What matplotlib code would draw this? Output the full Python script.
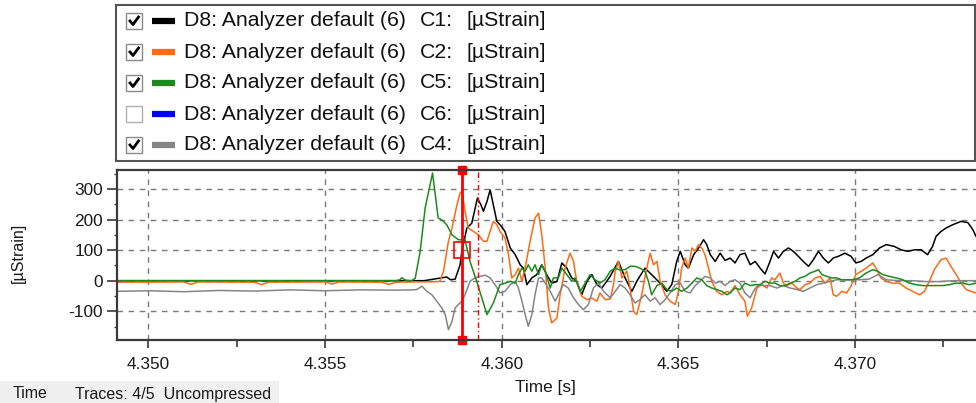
"""
應變量測圖 (D8 Analyzer default) - 重現截圖
"""
import matplotlib
matplotlib.use('Agg')
import matplotlib.pyplot as plt
from matplotlib.lines import Line2D
from matplotlib.patches import Rectangle
from matplotlib.ticker import MultipleLocator, FormatStrFormatter

plt.rcParams['font.family'] = ['Liberation Sans', 'DejaVu Sans']
plt.rcParams['axes.unicode_minus'] = False

# ---- data ----
legend_names = ['D8: Analyzer default (6)'] * 5
legend_channels = ['C1:', 'C2:', 'C5:', 'C6:', 'C4:']
legend_units = ['[µStrain]'] * 5
legend_checked = [True, True, True, False, True]
legend_colors = ['#000000', '#ff6a13', '#1e8a1e', '#0000ff', '#858585']

c1_t = [4.3490, 4.3578, 4.35844, 4.35855, 4.35868, 4.35882, 4.35887, 4.35901, 4.35915, 4.35931,
        4.35941, 4.35948, 4.35958, 4.35967, 4.35976, 4.35986, 4.35995, 4.36009, 4.36024, 4.36038,
        4.36052, 4.36061, 4.36071, 4.36085, 4.36099, 4.36113, 4.36127, 4.36141, 4.36156, 4.36170,
        4.36184, 4.36198, 4.36212, 4.36226, 4.36241, 4.36255, 4.36269, 4.36283, 4.36297, 4.36307,
        4.36330, 4.36349, 4.36368, 4.36382, 4.36405, 4.36424, 4.36448, 4.36467, 4.36481, 4.36495,
        4.36505, 4.36519, 4.36528, 4.36543, 4.36557, 4.36571, 4.36580, 4.36590, 4.36604, 4.36618,
        4.36632, 4.36646, 4.36660, 4.36674, 4.36688, 4.36703, 4.36717, 4.36731, 4.36745, 4.36759,
        4.36769, 4.36783, 4.36797, 4.36811, 4.36825, 4.36839, 4.36853, 4.36868, 4.36882, 4.36896,
        4.36910, 4.36924, 4.36938, 4.36953, 4.36971, 4.36988, 4.37002, 4.37017, 4.37031, 4.37050,
        4.37069, 4.37088, 4.37111, 4.37130, 4.37149, 4.37168, 4.37187, 4.37205, 4.37219, 4.37229,
        4.37243, 4.37257, 4.37276, 4.37300, 4.37319, 4.37333, 4.37342, 4.3736]
c1_v = [0, 0, 12, 3, 5, 52, 96, 172, 188, 270,
        248, 227, 259, 297, 248, 194, 183, 161, 107, 85,
        52, 41, -13, 9, 20, 52, 20, -8, -3, 58,
        41, 9, -2, -46, -2, 20, -13, -24, -2, 15,
        63, 9, -35, -2, 41, 20, -8, -35, -13, 63,
        96, 52, 41, 85, 107, 134, 118, 85, 63, 90,
        66, 74, 58, 85, 90, 52, 63, 41, 22, 63,
        96, 74, 96, 107, 96, 80, 63, 47, 69, 96,
        74, 58, 74, 80, 90, 80, 58, 63, 74, 85,
        107, 118, 112, 101, 96, 101, 101, 85, 112, 145,
        161, 172, 183, 194, 190, 167, 145, 120]

c2_t = [4.3490, 4.3510, 4.3512, 4.3514, 4.3530, 4.3532, 4.3534, 4.3550, 4.3552, 4.3554,
        4.3566, 4.3568, 4.3570, 4.3582, 4.35825, 4.35835, 4.35849, 4.35859, 4.35873, 4.35882,
        4.35887, 4.35896, 4.35905, 4.35920, 4.35934, 4.35948, 4.35958, 4.35967, 4.35976, 4.35986,
        4.35995, 4.36009, 4.36019, 4.36028, 4.36038, 4.36047, 4.36057, 4.36066, 4.36080, 4.36094,
        4.36104, 4.36113, 4.36123, 4.36132, 4.36141, 4.36156, 4.36165, 4.36179, 4.36193, 4.36203,
        4.36212, 4.36226, 4.36241, 4.36255, 4.36269, 4.36278, 4.36292, 4.36307, 4.36316, 4.36321,
        4.36330, 4.36340, 4.36354, 4.36363, 4.36373, 4.36382, 4.36396, 4.36410, 4.36420, 4.36429,
        4.36439, 4.36448, 4.36462, 4.36476, 4.36491, 4.36500, 4.36509, 4.36519, 4.36528, 4.36538,
        4.36547, 4.36557, 4.36566, 4.36575, 4.36585, 4.36594, 4.36608, 4.36623, 4.36637, 4.36646,
        4.36660, 4.36674, 4.36688, 4.36695, 4.36707, 4.36722, 4.36736, 4.36750, 4.36764, 4.36773,
        4.36787, 4.36797, 4.36806, 4.36821, 4.36835, 4.36844, 4.36858, 4.36872, 4.36887, 4.36901,
        4.36915, 4.36929, 4.36938, 4.36948, 4.36962, 4.36976, 4.36988, 4.37002, 4.37017, 4.37031,
        4.37050, 4.37059, 4.37073, 4.37088, 4.37106, 4.37125, 4.37144, 4.37163, 4.37182, 4.37196,
        4.37210, 4.37224, 4.37243, 4.37257, 4.37271, 4.37286, 4.37300, 4.37314, 4.37328, 4.37342,
        4.3736]
c2_v = [-5, -4, -12, -4, -5, -13, -5, -4, -11, -4,
        -5, -12, -5, -3, -1, 31, 129, 172, 248, 287,
        292, 227, 172, 161, 150, 129, 129, 161, 194, 183,
        161, 140, 85, 9, 20, 41, -2, 41, 129, 205,
        221, 150, 41, -89, -138, -122, -46, 41, 90, 63,
        -2, -51, -62, -57, -67, -40, -62, -60, -13, 31,
        63, 9, 31, -24, -100, -111, -46, 41, 90, 52,
        63, -2, -46, -67, -78, -35, 41, 74, 41, 107,
        96, 118, 107, 85, 41, -2, -35, -46, -35, -40,
        -16, -46, -67, -116, -89, -24, -13, -24, 9, 3,
        25, -8, -16, -8, -24, -29, -13, -8, 9, 14,
        -8, 9, -46, -51, -35, -40, -18, 20, 31, 41,
        58, 41, 9, -2, -8, -8, -24, -35, -46, -35,
        -2, 36, 69, 74, 47, 20, -8, -29, -35, -40,
        -42]

c5_t = [4.3490, 4.3570, 4.35712, 4.35717, 4.35726, 4.35745, 4.35755, 4.35769, 4.35783, 4.35804,
        4.35820, 4.35830, 4.35844, 4.35859, 4.35877, 4.35896, 4.35910, 4.35929, 4.35958, 4.35976,
        4.35995, 4.36009, 4.36024, 4.36038, 4.36047, 4.36057, 4.36066, 4.36075, 4.36085, 4.36094,
        4.36104, 4.36113, 4.36123, 4.36137, 4.36146, 4.36160, 4.36170, 4.36184, 4.36198, 4.36207,
        4.36222, 4.36236, 4.36250, 4.36264, 4.36278, 4.36292, 4.36307, 4.36321, 4.36335, 4.36349,
        4.36363, 4.36377, 4.36391, 4.36405, 4.36415, 4.36424, 4.36439, 4.36453, 4.36467, 4.36481,
        4.36495, 4.36509, 4.36524, 4.36538, 4.36552, 4.36566, 4.36580, 4.36594, 4.36608, 4.36623,
        4.36637, 4.36646, 4.36660, 4.36674, 4.36688, 4.36703, 4.36717, 4.36731, 4.36745, 4.36759,
        4.36773, 4.36787, 4.36802, 4.36816, 4.36830, 4.36844, 4.36858, 4.36872, 4.36887, 4.36896,
        4.36906, 4.36920, 4.36934, 4.36948, 4.36962, 4.36976, 4.36993, 4.37012, 4.37031, 4.37050,
        4.37064, 4.37078, 4.37097, 4.37116, 4.37135, 4.37153, 4.37172, 4.37191, 4.37229, 4.37248,
        4.37267, 4.37286, 4.37304, 4.37323, 4.37342, 4.3736]
c5_v = [0, 0, 3, 10, 2, 0, 8, 96, 237, 352,
        205, 199, 183, 150, 134, 134, 63, -2, -111, -73,
        -13, -8, -2, -8, 20, 41, 31, 52, 31, 52,
        20, 52, 31, -24, 9, 9, 41, 20, -2, 9,
        -35, -8, 20, 3, -8, 3, 31, 41, 35, 36,
        47, 47, 41, 31, -2, -46, -16, -8, -29, -35,
        -24, -35, -24, -8, 9, 3, -16, -24, -29, -35,
        -46, -40, -24, -29, -8, -16, -13, -13, -2, -8,
        -8, -16, -16, -8, -2, 9, 14, 25, 31, 36,
        20, 14, 9, 9, 3, 3, 3, 9, 25, 36,
        31, 20, 14, 9, 3, -8, -13, -16, -16, -16,
        -13, -8, -8, -13, -8, -8]

c4_t = [4.3490, 4.3500, 4.3510, 4.3520, 4.3530, 4.3540, 4.3550, 4.3560, 4.3570, 4.35745,
        4.35759, 4.35774, 4.35788, 4.35802, 4.35816, 4.35830, 4.35840, 4.35849, 4.35859, 4.35868,
        4.35877, 4.35887, 4.35896, 4.35910, 4.35924, 4.35939, 4.35953, 4.35967, 4.35981, 4.35995,
        4.36009, 4.36024, 4.36038, 4.36047, 4.36057, 4.36066, 4.36075, 4.36085, 4.36094, 4.36104,
        4.36113, 4.36123, 4.36137, 4.36151, 4.36160, 4.36174, 4.36188, 4.36203, 4.36217, 4.36231,
        4.36245, 4.36259, 4.36274, 4.36288, 4.36307, 4.36321, 4.36335, 4.36349, 4.36363, 4.36377,
        4.36391, 4.36405, 4.36420, 4.36434, 4.36448, 4.36462, 4.36476, 4.36491, 4.36505, 4.36519,
        4.36533, 4.36547, 4.36561, 4.36575, 4.36590, 4.36604, 4.36618, 4.36632, 4.36646, 4.36660,
        4.36674, 4.36688, 4.36703, 4.36712, 4.36726, 4.36740, 4.36759, 4.36778, 4.36797, 4.36816,
        4.36835, 4.36853, 4.36872, 4.36891, 4.36910, 4.36929, 4.36948, 4.36967, 4.36985, 4.37012,
        4.37039, 4.37065, 4.37088, 4.37124, 4.37164, 4.37200, 4.37237, 4.37277, 4.37314, 4.37342,
        4.3736]
c4_v = [-35, -33, -36, -32, -34, -30, -33, -30, -31, -30,
        -29, -18, -35, -46, -67, -89, -111, -160, -133, -89,
        -78, -67, -46, -2, 9, 14, 18, 9, -13, -40,
        -35, -13, -2, -24, -67, -111, -149, -111, -46, 9,
        9, -8, -35, -67, -46, -13, -24, -56, -78, -95,
        -78, -24, -8, -35, -56, -35, -13, -24, -46, -73,
        -62, -46, -67, -56, -78, -62, -40, -13, -8, -35,
        -40, -16, -2, 14, 9, -8, -2, -16, -2, 3,
        -8, -40, -56, -35, -13, -16, -16, -24, -16, -24,
        -29, -35, -24, -13, -8, -2, 3, 3, 3, 3,
        5, 20, 3, 0, 0, -3, -3, 0, 0, 0,
        0]

cursor_t = 4.35887
cursor_val = 100
cursor2_t = 4.35934

W, H = 976, 403


def fx(x):
    return x / W


def fy(y):
    return 1 - y / H


fig = plt.figure(figsize=(9.76, 4.03), dpi=100, facecolor='white')

# ---- 上方圖例框 ----
fig.patches.append(Rectangle((fx(116), fy(161)), fx(975) - fx(116), fy(5) - fy(161),
                             transform=fig.transFigure, fill=False, edgecolor='#555555', lw=1.5))
rows_y = [21, 52, 83, 114, 145]
for i, yc in enumerate(rows_y):
    # checkbox
    fig.patches.append(Rectangle((fx(126), fy(yc + 8)), fx(16), 16 / H,
                                 transform=fig.transFigure, facecolor='white',
                                 edgecolor='#8a8a8a' if legend_checked[i] else '#b0b0b0', lw=1))
    if legend_checked[i]:
        fig.lines.append(Line2D([fx(130), fx(133), fx(138.5)], [fy(yc), fy(yc + 3.5), fy(yc - 4)],
                                transform=fig.transFigure, color='black', lw=2.0))
    fig.lines.append(Line2D([fx(152), fx(175)], [fy(yc), fy(yc)], transform=fig.transFigure,
                            color=legend_colors[i], lw=4.5, solid_capstyle='butt'))
    fig.text(fx(184), fy(yc), legend_names[i], fontsize=15.3, va='center', color='#111111')
    fig.text(fx(420), fy(yc), legend_channels[i], fontsize=15.3, va='center', color='#111111')
    fig.text(fx(466), fy(yc), legend_units[i], fontsize=15.3, va='center', color='#111111')

# ---- 主圖 ----
ax = fig.add_axes([fx(117), fy(340), (W - 117) / W, 170 / H])
ax.plot(c1_t, c1_v, color=legend_colors[0], lw=1.1)
ax.plot(c2_t, c2_v, color=legend_colors[1], lw=1.1)
ax.plot(c4_t, c4_v, color=legend_colors[4], lw=1.1)
ax.plot(c5_t, c5_v, color=legend_colors[2], lw=1.1)

# 游標
ax.axvline(cursor_t, color='#ff0000', lw=2)
ax.plot([cursor_t, cursor_t], [362, -194], ls='none', marker='s', ms=6,
        color='#ff0000', clip_on=False)
ax.plot([cursor_t], [cursor_val], ls='none', marker='s', ms=11.5, mfc='none',
        mec='#ff0000', mew=1.2)
ax.axvline(cursor2_t, color='#ff0000', lw=1, ls=(0, (4, 2, 1, 2)))

ax.set_xlim(4.34911, 4.37342)
ax.set_ylim(-194, 362)
ax.xaxis.set_major_locator(MultipleLocator(0.005))
ax.xaxis.set_minor_locator(MultipleLocator(0.0025))
ax.yaxis.set_major_locator(MultipleLocator(100))
ax.yaxis.set_minor_locator(MultipleLocator(50))
ax.xaxis.set_major_formatter(FormatStrFormatter('%.3f'))
ax.grid(True, which='major', color='#7a7a7a', ls=(0, (4, 4)), lw=1)
ax.tick_params(axis='x', which='major', length=6, width=1.2, pad=6, labelsize=12.4,
               colors='#3a3a3a', labelcolor='#1a1a1a')
ax.tick_params(axis='x', which='minor', length=5, width=1.2, colors='#3a3a3a')
ax.tick_params(axis='y', which='major', length=7, width=1.2, pad=3, labelsize=12.4,
               colors='#3a3a3a', labelcolor='#1a1a1a')
ax.tick_params(axis='y', which='minor', length=2.5, width=1, colors='#3a3a3a')
for side in ['top', 'left', 'bottom']:
    ax.spines[side].set_color('#3a3a3a')
    ax.spines[side].set_linewidth(1.6)
ax.spines['right'].set_visible(False)

ax.set_ylabel('[µStrain]', fontsize=11.5, color='#1a1a1a')
ax.yaxis.set_label_coords((26 - 117) / (W - 117), 0.51)
ax.set_xlabel('Time [s]', fontsize=12.4, color='#1a1a1a')
ax.xaxis.set_label_coords((545 - 117) / (W - 117), (340 - 380) / 170)

# ---- 狀態列 ----
fig.patches.append(Rectangle((0, 0), fx(279), fy(381), transform=fig.transFigure,
                             facecolor='#f0f0f0', edgecolor='none'))
fig.text(fx(13), fy(394), 'Time', fontsize=11.5, va='center', color='#1a1a1a')
fig.text(fx(75), fy(394), 'Traces: 4/5  Uncompressed', fontsize=11.5, va='center', color='#1a1a1a')

fig.savefig('out.png', dpi=100, facecolor='white')
plt.close(fig)
